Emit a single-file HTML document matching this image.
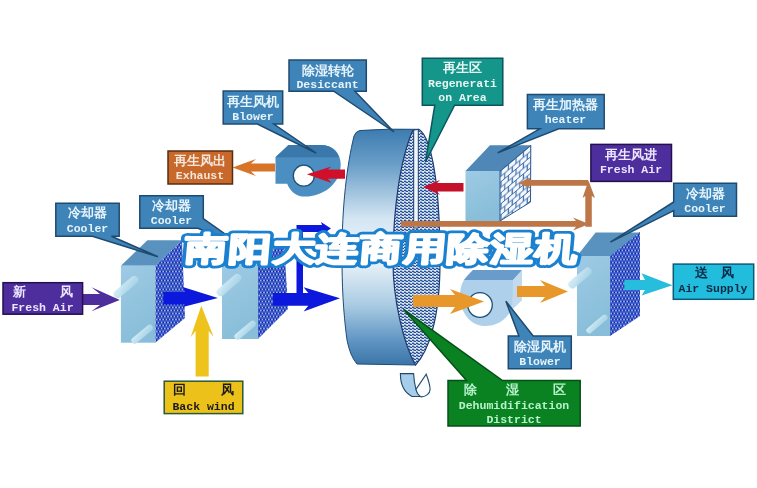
<!DOCTYPE html>
<html><head><meta charset="utf-8">
<style>
html,body{margin:0;padding:0;background:#fff;}
body{width:757px;height:488px;overflow:hidden;position:relative;font-family:"Liberation Sans",sans-serif;}
svg{position:absolute;left:0;top:0;}
.cn{font-family:"Liberation Serif",serif;font-size:13px;font-weight:bold;}
.en{font-family:"Liberation Mono",monospace;font-size:11.5px;font-weight:bold;}
</style></head>
<body>
<svg width="757" height="488" viewBox="0 0 757 488">
<defs>
  <pattern id="dots" width="3.2" height="6" patternUnits="userSpaceOnUse">
    <rect width="3.2" height="6" fill="#4466dc"/>
    <circle cx="1.6" cy="1.5" r="1.05" fill="#15228c"/>
    <circle cx="0" cy="4.5" r="1.05" fill="#15228c"/>
    <circle cx="3.2" cy="4.5" r="1.05" fill="#15228c"/>
    <circle cx="0" cy="1.5" r="0.75" fill="#b4ccff"/>
    <circle cx="3.2" cy="1.5" r="0.75" fill="#b4ccff"/>
    <circle cx="1.6" cy="4.5" r="0.75" fill="#b4ccff"/>
  </pattern>
  <pattern id="waves" width="4" height="3" patternUnits="userSpaceOnUse">
    <rect width="4" height="3" fill="#e4eef8"/>
    <path d="M0 1.9 Q1 0.2 2 1.9 T4 1.9" fill="none" stroke="#244e96" stroke-width="1.25"/>
  </pattern>
  <pattern id="brick" width="7.5" height="11" patternUnits="userSpaceOnUse" patternTransform="translate(500 171) skewY(-40)">
    <rect width="7.5" height="11" fill="#f4f8fc"/>
    <path d="M0 0.5H7.5M0 6H7.5M1 0.5V6M4.75 6V11" fill="none" stroke="#3d6cac" stroke-width="1.2"/>
  </pattern>
  <linearGradient id="coolFront" x1="0" y1="0" x2="0.3" y2="1">
    <stop offset="0" stop-color="#9ecae4"/>
    <stop offset="1" stop-color="#88bed9"/>
  </linearGradient>
  <linearGradient id="pill" x1="0" y1="0" x2="1" y2="1">
    <stop offset="0" stop-color="#d8eef8"/>
    <stop offset="1" stop-color="#a4d2e6"/>
  </linearGradient>
  <linearGradient id="wheelBody" x1="0" y1="0" x2="0" y2="1">
    <stop offset="0" stop-color="#3c7cb0"/>
    <stop offset="0.15" stop-color="#6a9ec8"/>
    <stop offset="0.38" stop-color="#d4e6f3"/>
    <stop offset="0.55" stop-color="#eef5fb"/>
    <stop offset="0.75" stop-color="#a8cae2"/>
    <stop offset="0.9" stop-color="#5e94c2"/>
    <stop offset="1" stop-color="#3a74a8"/>
  </linearGradient>
</defs>

<!-- ============ Wheel ============ -->
<path d="M360 130.5 Q388 128.5 418.8 129.3 L415.5 365 L357 364 Q350 356 347 340 C343 310 342 285 342 255 C342 205 347 165 354 136 Q356 131 360 130.5 Z" fill="url(#wheelBody)" stroke="#1d4c78" stroke-width="1"/>
<path d="M412.7 130.6 L418.8 129.3 C432 138 440 185 440 262 C440 320 428 352 415.5 365 C404 345 393 300 393 262 C393 210 400 160 412.7 130.6 Z" fill="url(#waves)" stroke="#1d3c70" stroke-width="1.2"/>
<path d="M413.7 130 L418.3 129.5 L418.3 228 L413.7 228 Z" fill="#eef5fb" stroke="#1d3c70" stroke-width="1"/>
<!-- curl under wheel -->
<path d="M400.4 373.6 L413.6 373.6 C414 381 415 386 416 389.4 C417 392 419 395 421 396.5 L412 396.5 C405 393 400.4 386 400.4 373.6 Z" fill="#a6cdea" stroke="#1e4a6e" stroke-width="1.1"/>
<path d="M416 389.4 L426.2 374.3 C428 379 430 385 430.1 389.4 C430 394 425 397 421 396.9 C418 395 416.5 392 416 389.4 Z" fill="#fbfdff" stroke="#1e4a6e" stroke-width="1.1"/>

<!-- ============ Regeneration blower ============ -->
<path d="M275.5 157.2 L288.5 144.9 L321.7 144.9 C333 145 341 153 340.7 165 C340.5 184 323 196.6 305 196.6 C296 196.6 290 191 287.2 183.7 L275.5 183.7 Z" fill="#4b8ec2"/>
<path d="M275.5 157.2 L288.5 144.9 L321.7 144.9 C330 145 336 150 339 157.2 Z" fill="#3a78ab"/>
<circle cx="303.8" cy="175.7" r="10.5" fill="#fff" stroke="#1d4f73" stroke-width="1.3"/>
<!-- red arrow into blower -->
<path d="M306.9 174.2 L331.5 166.4 L327.8 169.5 L345 169.5 L345 178.7 L327.8 178.7 L331.5 183 Z" fill="#d0102a"/>
<!-- orange arrow to exhaust -->
<path d="M232.5 167.5 L256 159 L251 163.5 L275 163.5 L275 171.5 L251 171.5 L256 176 Z" fill="#d87428"/>

<!-- ============ Heater block ============ -->
<path d="M465.5 171 L490 145.3 L531 145.3 L500 171 Z" fill="#4f87b6"/>
<rect x="465.5" y="171" width="34.5" height="50" fill="url(#coolFront)"/>
<path d="M500 171 L530.8 145.3 L530.5 202 L500 221 Z" fill="url(#brick)" stroke="#2b5a90" stroke-width="1"/>
<!-- red arrow 2 -->
<path d="M423 187 L440 180 L437 183 L463.5 183 L463.5 191.5 L437 191.5 L440 195 Z" fill="#c4102a"/>
<!-- brown pipes -->
<g fill="#bd7647">
<path d="M401 221 L576 221 L573 217.5 L589 224 L573 230.5 L576 226.7 L401 226.7 Z"/>
<path d="M585.3 226.7 L585.3 196 L582.5 198 L588.5 180.5 L595 198 L591.8 196 L591.8 226.7 Z"/>
<path d="M518.6 183 L531 177 L528.5 180 L588 180 L588 185.8 L528.5 185.8 L531 189 Z"/>
</g>

<!-- ============ Cooler blocks ============ -->
<!-- block 1 -->
<path d="M120.9 265.7 L147.4 240.3 L182 240.3 L155.5 265.7 Z" fill="#5a92bf"/>
<rect x="120.9" y="265.7" width="34.6" height="77" fill="url(#coolFront)"/>
<path d="M155.5 265.7 L182 240.3 L185 318 L155.5 342.6 Z" fill="url(#dots)"/>
<!-- block 2 -->
<path d="M222 264 L248.5 240 L284 240 L258 264 Z" fill="#5a92bf"/>
<rect x="222" y="264" width="36" height="75" fill="url(#coolFront)"/>
<path d="M258 264 L284 240 L288 309 L258 339 Z" fill="url(#dots)"/>
<!-- block 3 -->
<path d="M577 256 L595.6 232.4 L640 232.4 L610.4 256 Z" fill="#5a92bf"/>
<rect x="577" y="256" width="33" height="80" fill="url(#coolFront)"/>
<path d="M610 256 L640 232 L640 316 L610 336 Z" fill="url(#dots)"/>

<!-- pills -->
<g fill="url(#pill)" opacity="0.95">
<rect x="111" y="283" width="30" height="8" rx="4" transform="rotate(-40 126 287)"/>
<rect x="129" y="331" width="26" height="6.5" rx="3.2" transform="rotate(-40 142 334)"/>
<rect x="214" y="281" width="30" height="8" rx="4" transform="rotate(-40 229 285)"/>
<rect x="232" y="327" width="26" height="6.5" rx="3.2" transform="rotate(-40 245 330)"/>
<rect x="566" y="274" width="28" height="8" rx="4" transform="rotate(-40 580 278)"/>
<rect x="584" y="321" width="26" height="6" rx="3" transform="rotate(-40 597 324)"/>
</g>
<!-- blue arrows -->
<path d="M163.3 292.1 L184.5 292.1 L182.8 287 L217.9 298.1 L182.8 306.9 L184.5 304.6 L163.3 304.6 Z" fill="#0c18dc"/>
<path d="M272.9 293 L308.3 293 L303.6 287.2 L340 298.3 L303.6 311.5 L308.3 305.7 L272.9 305.7 Z" fill="#0c18dc"/>
<path d="M296.5 296 L296.5 225 L322 225 L321 222 L331 228.5 L321 235 L322 232 L303 232 L303 296 Z" fill="#0c18dc"/>
<!-- purple arrow -->
<path d="M83 294 L100 294 L91.5 287.2 L119.8 300.1 L91.5 311.2 L100 305 L83 305 Z" fill="#4e2e9c"/>
<!-- yellow arrow -->
<path d="M195.6 376.4 L195.6 331 L190.7 336.9 L201.3 305.7 L213.7 336.9 L208.7 331 L208.7 376.4 Z" fill="#eec41c"/>
<!-- cyan arrow -->
<path d="M624.4 280 L645 280 L641.6 273.2 L672.5 285.2 L641.6 295.5 L645 289.9 L624.4 289.9 Z" fill="#26bedc"/>

<!-- ============ Dehumid blower ============ -->
<path d="M473 270 L522 270 L522 300 L511 310 C505 322 495 326 485 326 C470 326 460 312 460 296 C460 285 464 277 473 270 Z" fill="#aed0ea"/>
<path d="M464 280 L473 270 L522 270 L513 280 Z" fill="#6a9ccb"/>
<path d="M513 280 L522 270 L522 300 L512 310 Z" fill="#c2daee"/>
<circle cx="480" cy="305" r="12.3" fill="#fff" stroke="#1d4f73" stroke-width="1.3"/>
<!-- orange arrows -->
<path d="M413 295 L455 295 L450 289 L484 301.5 L450 314 L455 307 L413 307 Z" fill="#e8982a"/>
<path d="M517 286 L545 286 L540 280 L568 291.5 L540 303 L545 297 L517 297 Z" fill="#e8982a"/>

<!-- ============ Labels ============ -->
<!-- Desiccant -->
<path d="M289 60 H366.3 V91.2 H354.9 L394 132 L333.7 91.2 H289 Z" fill="#3f84b8" stroke="#1f4a70" stroke-width="1.5"/>
<text x="327.5" y="75" class="cn" fill="#e6f4fc" text-anchor="middle">除湿转轮</text>
<text x="327.5" y="88" class="en" fill="#e6f4fc" text-anchor="middle">Desiccant</text>
<!-- Blower regen -->
<path d="M223.2 91.1 H282.7 V124.1 H273.8 L316.1 153 L257.4 124.1 H223.2 Z" fill="#3f84b8" stroke="#1f4a70" stroke-width="1.5"/>
<text x="253" y="106" class="cn" fill="#e6f4fc" text-anchor="middle">再生风机</text>
<text x="253" y="120" class="en" fill="#e6f4fc" text-anchor="middle">Blower</text>
<!-- Exhaust -->
<rect x="168" y="151" width="64.5" height="33" fill="#c8682a" stroke="#5a2c10" stroke-width="1.5"/>
<text x="200" y="164.5" class="cn" fill="#f4e8dc" text-anchor="middle">再生风出</text>
<text x="200" y="179" class="en" fill="#f4e8dc" text-anchor="middle">Exhaust</text>
<!-- Regeneration area -->
<path d="M422.3 58.2 H502.8 V105.2 H454.6 L425.5 162 L434.8 105.2 H422.3 Z" fill="#14968a" stroke="#0b5560" stroke-width="1.5"/>
<text x="462.5" y="72" class="cn" fill="#e8f6f4" text-anchor="middle">再生区</text>
<text x="462.5" y="87" class="en" fill="#e8f6f4" text-anchor="middle">Regenerati</text>
<text x="462.5" y="101" class="en" fill="#e8f6f4" text-anchor="middle">on Area</text>
<!-- Heater -->
<path d="M527.4 94.4 H604.2 V128.8 H558.7 L497.7 152.8 L539.8 128.8 H527.4 Z" fill="#3f84b8" stroke="#1f4a70" stroke-width="1.5"/>
<text x="565.5" y="109" class="cn" fill="#e6f4fc" text-anchor="middle">再生加热器</text>
<text x="565.5" y="123" class="en" fill="#e6f4fc" text-anchor="middle">heater</text>
<!-- Fresh Air right -->
<rect x="590.9" y="144.4" width="80.6" height="37" fill="#4e2e9c" stroke="#24104e" stroke-width="1.5"/>
<text x="631" y="158.5" class="cn" fill="#ece6ff" text-anchor="middle">再生风进</text>
<text x="631" y="173" class="en" fill="#ece6ff" text-anchor="middle">Fresh Air</text>
<!-- Cooler right -->
<path d="M673.7 183.2 H736.5 V216.3 H673.7 V210.6 L610.4 242.2 L673.7 202 Z" fill="#3f84b8" stroke="#1f4a70" stroke-width="1.5"/>
<text x="705" y="198" class="cn" fill="#e6f4fc" text-anchor="middle">冷却器</text>
<text x="705" y="212" class="en" fill="#e6f4fc" text-anchor="middle">Cooler</text>
<!-- Cooler left -->
<path d="M55.8 203.2 H119.2 V236.2 H111.4 L158 256.7 L92.4 236.2 H55.8 Z" fill="#3f84b8" stroke="#1f4a70" stroke-width="1.5"/>
<text x="87.5" y="217" class="cn" fill="#e6f4fc" text-anchor="middle">冷却器</text>
<text x="87.5" y="232" class="en" fill="#e6f4fc" text-anchor="middle">Cooler</text>
<!-- Cooler middle -->
<path d="M139.8 195.8 H203.3 V218.5 L245 248 L198 228.3 H139.8 Z" fill="#3f84b8" stroke="#1f4a70" stroke-width="1.5"/>
<text x="171.5" y="210" class="cn" fill="#e6f4fc" text-anchor="middle">冷却器</text>
<text x="171.5" y="224" class="en" fill="#e6f4fc" text-anchor="middle">Cooler</text>
<!-- Fresh air left -->
<rect x="3" y="282.7" width="79.6" height="31.5" fill="#4e2e9c" stroke="#24104e" stroke-width="1.5"/>
<text x="12.5" y="296" class="cn" fill="#ece6ff">新</text>
<text x="60" y="296" class="cn" fill="#ece6ff">风</text>
<text x="42.5" y="311" class="en" fill="#ece6ff" text-anchor="middle">Fresh Air</text>
<!-- Back wind -->
<rect x="164.2" y="381.2" width="78.6" height="32.4" fill="#ecc21a" stroke="#2a5a3a" stroke-width="1.5"/>
<text x="172.5" y="393.5" class="cn" fill="#1a1a1a">回</text>
<text x="221" y="393.5" class="cn" fill="#1a1a1a">风</text>
<text x="203.5" y="410" class="en" fill="#1a1a1a" text-anchor="middle" font-weight="bold">Back wind</text>
<!-- Blower dehumid -->
<path d="M508.3 336 H518.9 L505.9 301.3 L533.2 336 H571.3 V368.8 H508.3 Z" fill="#3f84b8" stroke="#1f4a70" stroke-width="1.5"/>
<text x="540" y="350.5" class="cn" fill="#e6f4fc" text-anchor="middle">除湿风机</text>
<text x="540" y="365" class="en" fill="#e6f4fc" text-anchor="middle">Blower</text>
<!-- Dehumidification -->
<path d="M448 380.6 H466.6 L403.4 309.3 L502.5 380.6 H580.2 V426.1 H448 Z" fill="#0b8222" stroke="#05501a" stroke-width="1.5"/>
<text x="463.5" y="394" class="cn" fill="#b8f2cc">除</text>
<text x="506" y="394" class="cn" fill="#b8f2cc">湿</text>
<text x="553" y="394" class="cn" fill="#b8f2cc">区</text>
<text x="514" y="409" class="en" fill="#b8f2cc" text-anchor="middle">Dehumidification</text>
<text x="514" y="423" class="en" fill="#b8f2cc" text-anchor="middle">District</text>
<!-- Air supply -->
<rect x="673.3" y="264.1" width="80.4" height="35.2" fill="#22bcdc" stroke="#0d5a78" stroke-width="1.5"/>
<text x="694.5" y="277" class="cn" fill="#0a2a48">送</text>
<text x="721" y="277" class="cn" fill="#0a2a48">风</text>
<text x="713" y="292" class="en" fill="#0a2a48" text-anchor="middle">Air Supply</text>

<!-- ============ Title ============ -->
<g font-family="'Liberation Sans',sans-serif" font-size="38" font-weight="900" transform="translate(181,260) skewX(-5) scale(1.12,0.86)">
<text x="3" y="0" fill="#1a80d0" stroke="#1a80d0" stroke-width="9" stroke-linejoin="round" letter-spacing="1.0">南阳大连商用除湿机</text>
<text x="3" y="0" fill="#fff" stroke="#fff" stroke-width="2.6" stroke-linejoin="round" letter-spacing="1.0">南阳大连商用除湿机</text>
</g>
</svg>
</body></html>
